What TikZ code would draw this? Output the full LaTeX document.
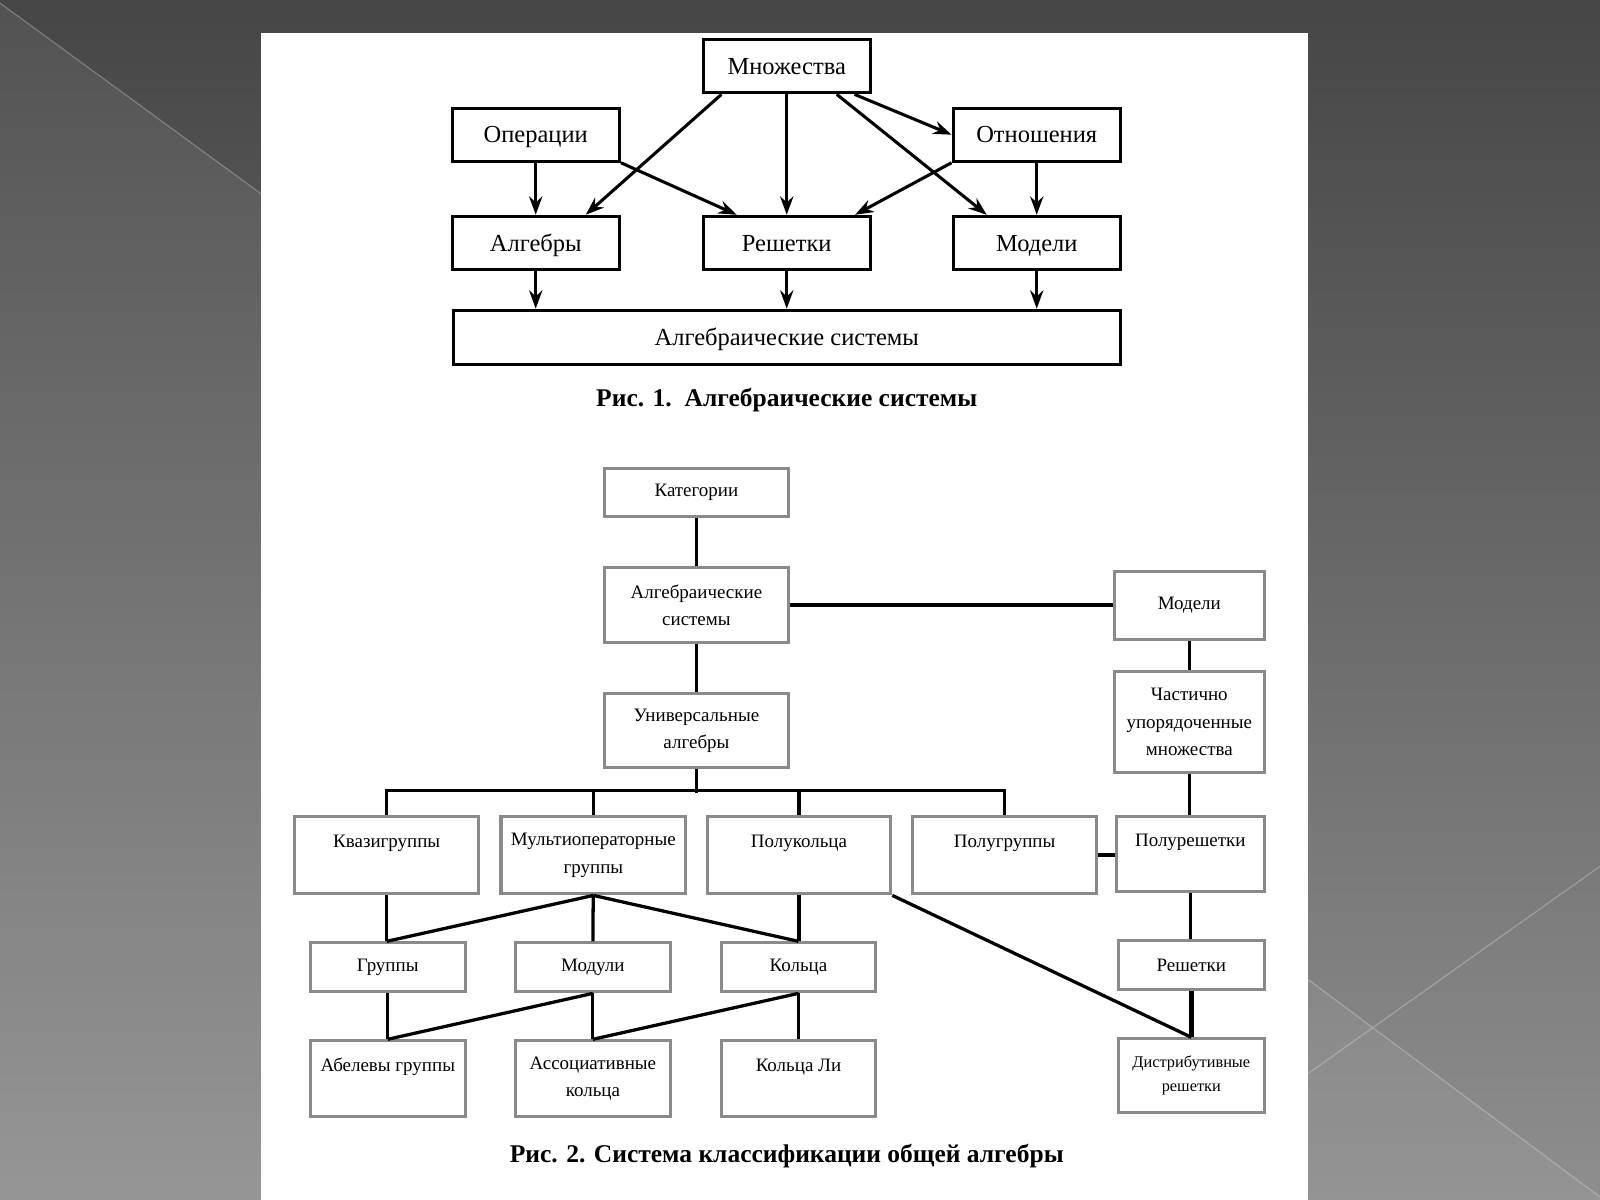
\documentclass[tikz,border=0pt]{standalone}
\usepackage{fontspec}
\setmainfont{Liberation Serif}
\usetikzlibrary{arrows.meta, positioning}
\definecolor{bgtop}{HTML}{464646}
\definecolor{bgbottom}{HTML}{8E8E8E}
\definecolor{framegray}{HTML}{8A8A8A}

\begin{document}
\begin{tikzpicture}[x=0.5pt,y=-0.5pt,
    box/.style={draw,line width=1.5pt,inner sep=0pt,text height=8.5pt,text depth=0.5pt,
        font=\fontsize{12}{14}\selectfont},
    sbox/.style={box,minimum width=82pt,minimum height=26pt},
    cls/.style={draw=framegray,line width=1.5pt,inner sep=0pt,align=center,
        font=\fontsize{9.3}{13.5}\selectfont},
    arr/.style={-{Stealth[length=9pt,width=6.5pt,inset=3pt]},line width=1.5pt},
    link/.style={line width=1.6pt},
    caption/.style={font=\fontsize{12.5}{14}\selectfont\bfseries}]
    \useasboundingbox (0,0) rectangle (1568,1176);
    \shade[top color=bgtop,bottom color=bgbottom] (0,0) rectangle (1568,1176);
    \fill[white,opacity=0.07] (0,3) -- (256,190) -- (256,1176) -- (0,1176) -- cycle;
    \fill[white,opacity=0.06] (1282,960) -- (1568,1173) -- (1568,1176) -- (1282,1176) -- cycle;
    \draw[white,opacity=0.25,line width=0.6pt] (0,3) -- (256,190)
        (1568,849) -- (1282,1052) (1282,960) -- (1568,1173);
    \fill[white] (256,32) rectangle (1282,1176);

    \node[sbox] (mnozh) at (771,65) {Множества};
    \node[sbox] (oper) at (525,132) {Операции};
    \node[sbox] (otnosh) at (1016,132) {Отношения};
    \node[sbox] (algebry) at (525,238) {Алгебры};
    \node[sbox] (reshetki) at (771,238) {Решетки};
    \node[sbox] (modeli) at (1016,238) {Модели};
    \node[box,minimum width=327pt,minimum height=26.5pt] (algsys) at (771,330.5) {Алгебраические системы};
    \node[caption] (cap1) at (771,392) {Рис. 1.\ \ Алгебраические системы};

    \draw[arr] ([xshift=-32pt]mnozh.south) -- ([xshift=24.5pt]algebry.north);
    \draw[arr] (mnozh) -- (reshetki);
    \draw[arr] ([xshift=24.5pt]mnozh.south) -- ([xshift=-24.5pt]modeli.north);
    \draw[arr] ([xshift=-8.5pt]mnozh.south east) -- (otnosh.west);
    \draw[arr] (oper) -- (algebry);
    \draw[arr] (oper.south east) -- ([xshift=-24.5pt]reshetki.north);
    \draw[arr] (otnosh.south west) -- ([xshift=33.5pt]reshetki.north);
    \draw[arr] (otnosh) -- (modeli);
    \foreach \n in {algebry,reshetki,modeli}
        \draw[arr] (\n.south) -- (\n.south |- algsys.north);

    \node[cls,minimum width=90.5pt,minimum height=23.5pt] (cat) at (682.5,482.5) {Категории};
    \node[cls,minimum width=90.5pt,minimum height=37pt] (as) at (682.5,593) {Алгебраические\\системы};
    \node[cls,minimum width=73.5pt,minimum height=33.5pt] (mod) at (1165.5,593.5) {Модели};
    \node[cls,minimum width=90.5pt,minimum height=36pt] (ua) at (682.5,716) {Универсальные\\алгебры};
    \node[cls,minimum width=73.5pt,minimum height=49.5pt] (chum) at (1165.5,707.5) {Частично\\упорядоченные\\множества};
    \node[cls,minimum width=90pt,minimum height=38pt] (kvazi) at (379,838) {Квазигруппы\\\mbox{}};
    \node[cls,minimum width=90.5pt,minimum height=38pt] (mult) at (581.5,838) {Мультиоператорные\\группы};
    \node[cls,minimum width=90pt,minimum height=38pt] (polukol) at (783,838) {Полукольца\\\mbox{}};
    \node[cls,minimum width=90.5pt,minimum height=38pt] (polug) at (984.5,838) {Полугруппы\\\mbox{}};
    \node[cls,minimum width=72.5pt,minimum height=37pt] (polur) at (1166.5,837) {Полурешетки\\\mbox{}};
    \node[cls,minimum width=76pt,minimum height=24pt] (grup) at (380,948) {Группы};
    \node[cls,minimum width=76pt,minimum height=24pt] (moduli) at (581,948) {Модули};
    \node[cls,minimum width=75.5pt,minimum height=24pt] (kolca) at (782.5,948) {Кольца};
    \node[cls,minimum width=71.5pt,minimum height=24pt] (resh) at (1167.5,946) {Решетки};
    \node[cls,minimum width=76pt,minimum height=37pt] (abel) at (380,1057) {Абелевы группы\\\mbox{}};
    \node[cls,minimum width=76pt,minimum height=37pt] (assoc) at (581,1057) {Ассоциативные\\кольца};
    \node[cls,minimum width=75.5pt,minimum height=37pt] (kolcali) at (782.5,1057) {Кольца Ли\\\mbox{}};
    \node[cls,minimum width=71.5pt,minimum height=36pt,font=\fontsize{8}{12}\selectfont] (distr) at (1167.5,1054) {Дистрибутивные\\решетки};
    \node[caption] (cap2) at (771,1133) {Рис. 2. Система классификации общей алгебры};

    \draw[link] (cat) -- (as);
    \draw[link] (as) -- (ua);
    \draw[link] (as) -- (as -| mod.west);
    \draw[link] (mod) -- (chum);
    \draw[link] (chum) -- (chum |- polur.north);
    \draw[link] (ua.south) -- ++(0,24);
    \draw[link] (kvazi.north) -- ++(0,-24) -| (polug.north);
    \foreach \n in {mult,polukol}
        \draw[link] (\n.north) -- ++(0,-24);
    \draw[link] (polug) -- (polug -| polur.west);
    \draw[link] (polur) -- (polur |- resh.north);
    \draw[line width=2.2pt] (resh.south) -- (resh.south |- distr.north);
    \draw[link] (polukol.south east) -- (resh.south |- distr.north);
    \draw[link] (kvazi) -- (kvazi |- grup.north);
    \draw[link] (mult.south) -- (kvazi.south |- grup.north);
    \draw[link] (mult) -- (moduli);
    \draw[link] (mult.south) -- (kolca.north);
    \draw[link] (polukol) -- (polukol |- kolca.north);
    \draw[link] (grup) -- (grup |- abel.north);
    \draw[link] (moduli.south) -- (abel.north);
    \draw[link] (moduli) -- (assoc);
    \draw[link] (kolca.south) -- (assoc.north);
    \draw[link] (kolca) -- (kolcali);
\end{tikzpicture}
\end{document}
